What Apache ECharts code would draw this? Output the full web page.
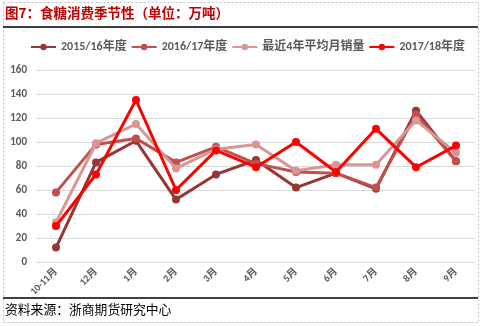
<!DOCTYPE html>
<html>
<head>
<meta charset="utf-8">
<script src="https://cdn.jsdelivr.net/npm/echarts@6/dist/echarts.min.js"></script>
<style>
  html, body { margin: 0; padding: 0; background: #fff; }
  #chart { width: 481px; height: 326px; }
</style>
</head>
<body>
<div id="chart"></div>
<script>
// Months of the sugar year
const months = ['10-11月', '12月', '1月', '2月', '3月', '4月', '5月', '6月', '7月', '8月', '9月'];

// Monthly consumption, 10k tonnes
const season1516 = [12, 83, 101, 52, 73, 85, 62, 74, 61, 126, 84];
const season1617 = [58, 98, 103, 83, 96, 82, 75, 74, 62, 123, 84];
const avg4yr     = [33, 99, 115, 78, 94, 98, 76, 81, 81, 118, 91];
const season1718 = [30, 73, 135, 60, 93, 79, 100, 75, 111, 79, 97];

const seriesNames = ['2015/16年度', '2016/17年度', '最近4年平均月销量', '2017/18年度'];
const seriesData = [season1516, season1617, avg4yr, season1718];
const colors = ['#953735', '#C0504D', '#D99694', '#FF0000'];

const labelFont = 'Calibri, "Liberation Sans", "Noto Sans CJK SC", sans-serif';

const chart = echarts.init(document.getElementById('chart'), null, { renderer: 'canvas' });

chart.setOption({
  animation: false,
  backgroundColor: '#fff',
  color: colors,
  grid: { left: 36, right: 5, top: 70, bottom: 64 },
  legend: {
    left: 25,
    top: 36,
    width: 470,
    itemWidth: 25,
    itemHeight: 8,
    itemGap: 4,
    textStyle: { color: '#595959', fontWeight: 'bold', fontSize: 12, fontFamily: labelFont },
    data: seriesNames
  },
  xAxis: {
    type: 'category',
    data: months,
    boundaryGap: true,
    axisLine: { show: false },
    axisTick: { show: false },
    axisLabel: {
      rotate: 45,
      margin: 8,
      color: '#595959',
      fontWeight: 'bold',
      fontSize: 10,
      fontFamily: labelFont,
      interval: 0
    }
  },
  yAxis: {
    type: 'value',
    min: 0,
    max: 160,
    interval: 20,
    axisLine: { show: false },
    axisTick: { show: false },
    axisLabel: { color: '#595959', fontWeight: 'bold', fontSize: 11, margin: 9, fontFamily: labelFont },
    splitLine: { lineStyle: { color: '#D9D9D9', width: 1 } }
  },
  series: seriesData.map((d, i) => ({
    name: seriesNames[i],
    type: 'line',
    data: d,
    symbol: 'circle',
    symbolSize: 8,
    showSymbol: true,
    lineStyle: { width: 3, color: colors[i] },
    itemStyle: { color: colors[i] },
    z: 2 + i
  })),
  graphic: [
    // page frame
    { type: 'rect', z: 100, silent: true,
      shape: { x: 3.5, y: 2.5, width: 475, height: 320 },
      style: { fill: 'none', stroke: '#BFBFBF', lineWidth: 1, lineDash: [2, 2] } },
    // title
    { type: 'text', z: 100, left: 5, top: 6,
      style: { text: '图7：食糖消费季节性（单位：万吨）', fill: '#C00000',
               font: 'bold 13.5px "Noto Sans CJK SC", sans-serif' } },
    { type: 'line', z: 100, shape: { x1: 3, y1: 27, x2: 478, y2: 27 },
      style: { stroke: '#000', lineWidth: 1.5 } },
    // footer band covers overflowing axis labels
    { type: 'rect', z: 100, silent: true,
      shape: { x: 4, y: 298, width: 474, height: 24 },
      style: { fill: '#fff' } },
    { type: 'line', z: 101, shape: { x1: 3, y1: 298, x2: 478, y2: 298 },
      style: { stroke: '#000', lineWidth: 1.5 } },
    { type: 'text', z: 101, left: 5, top: 303,
      style: { text: '资料来源：浙商期货研究中心', fill: '#000',
               font: '12.8px "Noto Sans CJK SC", sans-serif' } }
  ]
});
</script>
</body>
</html>
